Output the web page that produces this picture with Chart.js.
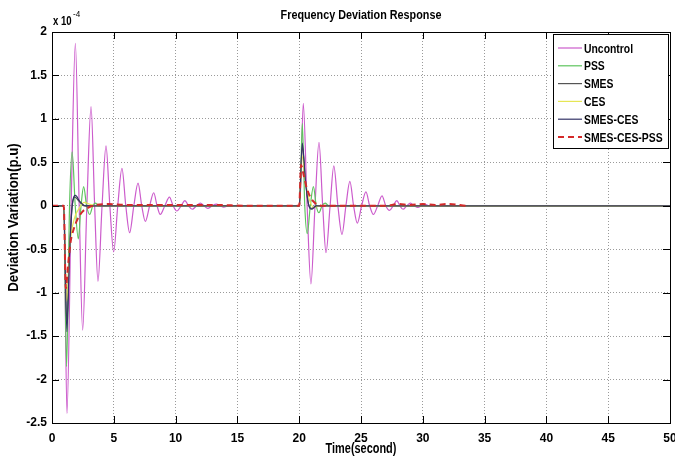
<!DOCTYPE html>
<html>
<head>
<meta charset="utf-8">
<script src="https://cdn.jsdelivr.net/npm/chart.js@4.4.1/dist/chart.umd.min.js"></script>
<style>
  html, body { margin: 0; padding: 0; background: #fff; }
</style>
</head>
<body>
<canvas id="myChart" width="675" height="457"></canvas>
<script>
// axis ticks
var xTicks = [0, 5, 10, 15, 20, 25, 30, 35, 40, 45, 50];
var yTicks = [-2.5, -2, -1.5, -1, -0.5, 0, 0.5, 1, 1.5, 2];
var yTickLabels = ['-2.5', '-2', '-1.5', '-1', '-0.5', '0', '0.5', '1', '1.5', '2'];

var seriesNames = ['Uncontrol', 'PSS', 'SMES', 'CES', 'SMES-CES', 'SMES-CES-PSS'];

// [time (s), deviation x1e-4 p.u]
var uncontrol = [[0, 0], [0.95, 0], [1.21, -2.39], [1.55, 0], [1.89, 1.87], [2.2, 0], [2.48, -1.43], [2.82, 0],
  [3.16, 1.14], [3.45, 0], [3.72, -0.87], [4.05, 0], [4.37, 0.69], [4.68, 0], [4.99, -0.53], [5.32, 0],
  [5.66, 0.43], [5.97, 0], [6.28, -0.31], [6.62, 0], [6.96, 0.26], [7.26, 0], [7.55, -0.18], [7.9, 0],
  [8.23, 0.15], [8.5, 0], [8.76, -0.1], [9.13, 0], [9.5, 0.1], [9.8, 0], [10.1, -0.06], [10.45, 0],
  [10.75, 0.06], [11.05, 0], [11.35, -0.04], [11.7, 0], [12.0, 0.03], [12.3, 0], [12.6, -0.03], [12.95, 0],
  [13.3, 0.02], [13.6, 0], [13.9, -0.015], [14.3, 0], [20.05, 0],
  [20.33, 1.18], [20.64, 0], [20.95, -0.9], [21.28, 0], [21.6, 0.73], [21.9, 0], [22.17, -0.54], [22.5, 0],
  [22.8, 0.46], [23.13, 0], [23.46, -0.33], [23.78, 0], [24.1, 0.28], [24.4, 0], [24.7, -0.2], [25.05, 0],
  [25.4, 0.16], [25.7, 0], [26.0, -0.1], [26.35, 0], [26.7, 0.115], [27.0, 0], [27.3, -0.054], [27.6, 0],
  [27.9, 0.06], [28.15, 0], [28.4, -0.04], [28.7, 0], [29.0, 0.03], [29.3, 0], [29.6, -0.02], [29.9, 0],
  [30.2, 0.015], [30.5, 0], [50, 0]];

var pss = [[0, 0], [0.95, 0], [1.18, -1.85], [1.42, 0], [1.63, 0.62], [1.88, 0], [2.13, -0.38], [2.35, 0],
  [2.56, 0.22], [2.8, 0], [3.05, -0.1], [3.3, 0], [3.5, 0.03], [3.8, 0], [20.05, 0],
  [20.25, 0.95], [20.45, 0], [20.65, -0.32], [20.9, 0], [21.15, 0.22], [21.38, 0], [21.6, -0.08],
  [21.85, 0], [22.1, 0.03], [22.4, 0], [50, 0]];

var smes = [[0, 0], [0.95, 0], [1.2, -1.35], [1.4, -0.6], [1.6, -0.05], [1.85, 0.1], [2.2, 0.05], [2.6, 0],
  [20.0, 0], [20.25, 0.68], [20.5, 0.3], [20.75, 0.02], [21.0, -0.03], [21.4, 0], [50, 0]];

var ces = [[0, 0], [0.95, 0], [1.18, -1.1], [1.45, -0.45], [1.8, -0.15], [2.2, -0.03], [2.6, 0.04], [3.0, 0.02],
  [3.5, 0], [20.0, 0], [20.22, 0.58], [20.5, 0.28], [20.8, 0.08], [21.2, -0.02], [21.6, 0], [50, 0]];

var smesCes = [[0, 0], [0.95, 0], [1.2, -1.45], [1.42, -0.55], [1.65, 0.02], [1.9, 0.12], [2.25, 0.05], [2.7, 0],
  [20.0, 0], [20.25, 0.72], [20.5, 0.3], [20.75, 0.02], [21.0, -0.04], [21.4, 0], [50, 0]];

var smesCesPss = [[0, 0], [0.95, 0], [1.12, -0.95], [1.3, -0.68], [1.5, -0.42], [1.75, -0.27], [2.05, -0.16],
  [2.45, -0.07], [2.95, -0.02], [3.6, 0.01], [4.6, 0.02], [6, 0.01], [8, 0.01], [10, 0.01], [13, 0.01], [16, 0],
  [20.0, 0], [20.15, 0.47], [20.35, 0.36], [20.6, 0.21], [20.9, 0.1], [21.3, 0.03], [21.8, 0], [27, 0],
  [28, 0.02], [29, 0.01], [30, 0.02], [31, 0.01], [32, 0.02], [33.5, 0]];

var FONT = '"Liberation Sans", Arial, sans-serif';

function pts(a) {
  return a.map(function (p) { return { x: p[0], y: p[1] }; });
}

function line(i, data, color, width, dash, order) {
  return {
    label: seriesNames[i],
    data: pts(data),
    borderColor: color,
    borderWidth: width,
    borderDash: dash,
    pointRadius: 0,
    fill: false,
    cubicInterpolationMode: 'monotone',
    order: order
  };
}

// narrow (squeezed) text like the MATLAB export
function narrowText(ctx, text, x, y, font, align, sx) {
  ctx.save();
  ctx.font = font;
  ctx.translate(x, y);
  ctx.scale(sx, 1);
  ctx.textAlign = align;
  ctx.fillText(text, 0, 0);
  ctx.restore();
}

// MATLAB style frame, inward ticks, titles and boxed legend
var matlabFrame = {
  id: 'matlabFrame',
  afterDraw: function (chart) {
    var ctx = chart.ctx;
    var a = chart.chartArea;
    var xs = chart.scales.x, ys = chart.scales.y;
    ctx.save();
    ctx.strokeStyle = '#000';
    ctx.lineWidth = 1;
    ctx.setLineDash([]);
    ctx.strokeRect(Math.round(a.left) + 0.5, Math.round(a.top) + 0.5,
      Math.round(a.right - a.left), Math.round(a.bottom - a.top));

    ctx.beginPath();
    xTicks.forEach(function (t) {
      var px = Math.round(xs.getPixelForValue(t)) + 0.5;
      ctx.moveTo(px, a.bottom); ctx.lineTo(px, a.bottom - 7);
      ctx.moveTo(px, a.top); ctx.lineTo(px, a.top + 7);
    });
    yTicks.forEach(function (v) {
      var py = Math.round(ys.getPixelForValue(v)) + 0.5;
      ctx.moveTo(a.left, py); ctx.lineTo(a.left + 7, py);
      ctx.moveTo(a.right, py); ctx.lineTo(a.right - 7, py);
    });
    ctx.stroke();

    ctx.fillStyle = '#000';
    ctx.textBaseline = 'middle';
    var bold = 'bold 13px ' + FONT;
    narrowText(ctx, 'Frequency Deviation Response', (a.left + a.right) / 2, 15, 'bold 13.5px ' + FONT, 'center', 0.8);
    narrowText(ctx, 'Time(second)', (a.left + a.right) / 2, 449, 'bold 14px ' + FONT, 'center', 0.78);

    ctx.save();
    ctx.translate(14, (a.top + a.bottom) / 2 - 10);
    ctx.rotate(-Math.PI / 2);
    narrowText(ctx, 'Deviation Variation(p.u)', 0, 0, 'bold 14px ' + FONT, 'center', 0.95);
    ctx.restore();

    // exponent
    ctx.textBaseline = 'alphabetic';
    narrowText(ctx, 'x 10', 53, 25, 'bold 12px ' + FONT, 'left', 0.8);
    narrowText(ctx, '-4', 73, 17, '9px ' + FONT, 'left', 0.9);

    // legend
    var lx = 553, ly = 34, lw = 115, lh = 114, step = 17.8;
    ctx.fillStyle = '#fff';
    ctx.fillRect(lx, ly, lw, lh);
    ctx.strokeStyle = '#000';
    ctx.strokeRect(lx + 0.5, ly + 0.5, lw, lh);
    ctx.textBaseline = 'middle';
    chart.data.datasets.forEach(function (ds, i) {
      var y = ly + 14 + i * step;
      ctx.strokeStyle = ds.borderColor;
      ctx.lineWidth = ds.borderWidth;
      ctx.setLineDash(ds.borderDash || []);
      ctx.beginPath();
      ctx.moveTo(lx + 5, y);
      ctx.lineTo(lx + 29, y);
      ctx.stroke();
      ctx.setLineDash([]);
      ctx.fillStyle = '#000';
      narrowText(ctx, ds.label, lx + 31, y + 1, bold, 'left', 0.8);
    });
    ctx.restore();
  }
};

var ctx = document.getElementById('myChart');
var myChart = new Chart(ctx, {
  type: 'line',
  data: {
    datasets: [
      line(0, uncontrol, '#cc5ccc', 1.2, [], 6),
      line(1, pss, '#5ec45e', 1.2, [], 5),
      line(2, smes, '#555555', 1.2, [], 4),
      line(3, ces, '#e6e655', 1.2, [], 3),
      line(4, smesCes, '#333366', 1.2, [], 2),
      line(5, smesCesPss, '#d42a2a', 2, [6, 4], 1)
    ]
  },
  options: {
    responsive: false,
    animation: false,
    layout: { padding: { left: 0, right: 5, top: 32, bottom: 0 } },
    plugins: {
      legend: { display: false },
      tooltip: { enabled: false }
    },
    scales: {
      x: {
        type: 'linear',
        min: 0,
        max: 50,
        afterBuildTicks: function (s) { s.ticks = xTicks.map(function (v) { return { value: v }; }); },
        afterFit: function (s) { s.height = 34; s.paddingLeft = 0; s.paddingRight = 0; },
        ticks: { color: '#000', padding: 8, maxRotation: 0, font: { family: FONT, size: 12, weight: 'bold' } },
        grid: { color: '#9a9a9a', lineWidth: 1, drawTicks: false },
        border: { display: false, dash: [1, 2] }
      },
      y: {
        type: 'linear',
        min: -2.5,
        max: 2,
        afterBuildTicks: function (s) { s.ticks = yTicks.map(function (v) { return { value: v }; }); },
        afterFit: function (s) { s.width = 52; s.paddingTop = 0; s.paddingBottom = 0; },
        ticks: {
          color: '#000', padding: 5, font: { family: FONT, size: 12, weight: 'bold' },
          callback: function (v) { var i = yTicks.indexOf(v); return i >= 0 ? yTickLabels[i] : ''; }
        },
        grid: { color: '#9a9a9a', lineWidth: 1, drawTicks: false },
        border: { display: false, dash: [1, 2] }
      }
    }
  },
  plugins: [matlabFrame]
});
</script>
</body>
</html>
